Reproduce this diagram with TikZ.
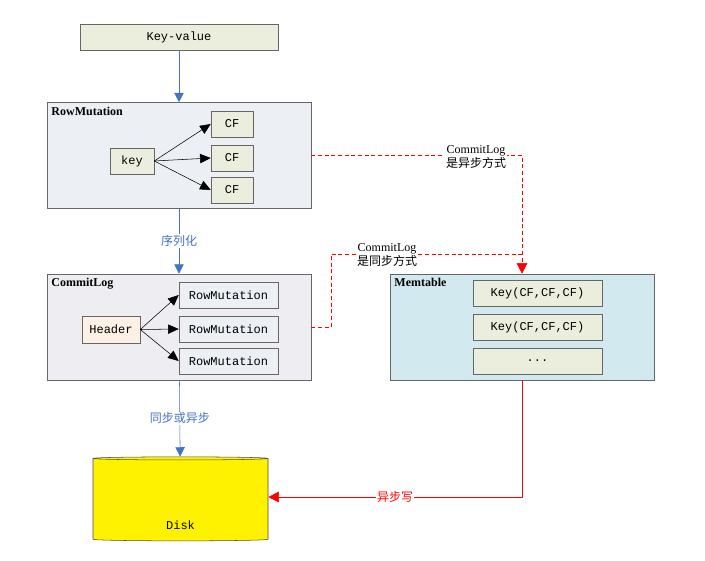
\documentclass[tikz,border=0pt]{standalone}
\usepackage{fontspec}
\setmainfont{Liberation Serif}
\setmonofont{Liberation Mono}
\newfontfamily\cjk{Noto Sans CJK SC}
\usetikzlibrary{shapes.geometric, arrows.meta, positioning}
\definecolor{cellgreen}{RGB}{235, 238, 220}
\definecolor{rowgray}{RGB}{236, 239, 244}
\definecolor{loggray}{RGB}{238, 237, 242}
\definecolor{headbeige}{RGB}{253, 240, 228}
\definecolor{memblue}{RGB}{210, 233, 239}
\definecolor{flowblue}{RGB}{68, 114, 196}
\begin{document}
\begin{tikzpicture}[
    x=0.75pt, y=-0.75pt,
    panel/.style={rectangle, draw=gray!80!black, minimum width=264*0.75pt, minimum height=106*0.75pt},
    cell/.style={rectangle, draw=gray!80!black, fill=cellgreen, font=\ttfamily\small, inner sep=0pt},
    title/.style={font=\bfseries\small, anchor=north west},
    note/.style={font=\cjk\small, align=center, fill=white, inner sep=1pt},
    flow/.style={-{Triangle[length=7pt,width=7pt]}, draw=flowblue!70, color=flowblue},
    fan/.style={-{Triangle[length=8pt,width=7pt]}, draw=gray!70!black, color=black},
    async/.style={densely dashed, draw=red!60, color=red},
    write/.style={draw=red!60, color=red}
]
    \useasboundingbox (0,0) rectangle (705,560);

    % input
    \node[cell, minimum width=198*0.75pt, minimum height=26*0.75pt] (kv) at (179,37) {Key-value};

    % row mutation
    \node[panel, fill=rowgray] (rowmut) at (179,155.5) {};
    \node[title] at (rowmut.north west) {RowMutation};
    \node[cell, minimum width=44*0.75pt, minimum height=26*0.75pt] (key) at (132,161) {key};
    \foreach \i/\y in {1/124, 2/158, 3/190}
        \node[cell, minimum width=42*0.75pt, minimum height=26*0.75pt] (cf\i) at (232,\y) {CF};
    \foreach \i in {1,2,3}
        \draw[fan] (key.east) -- (cf\i.west);

    % commit log
    \node[panel, fill=loggray] (commitlog) at (179,327) {};
    \node[title] at (commitlog.north west) {CommitLog};
    \node[cell, fill=headbeige, minimum width=58*0.75pt, minimum height=27*0.75pt] (header) at (111,329.5) {Header};
    \foreach \i/\y in {1/295, 2/329, 3/361}
        \node[cell, fill=rowgray, minimum width=99*0.75pt, minimum height=26*0.75pt] (rm\i) at (228.5,\y) {RowMutation};
    \foreach \i in {1,2,3}
        \draw[fan] (header.east) -- (rm\i.west);

    % memtable
    \node[panel, fill=memblue] (memtable) at (522,327) {};
    \node[title] at (memtable.north west) {Memtable};
    \foreach \i/\y/\t in {1/293/{Key(CF,CF,CF)}, 2/327/{Key(CF,CF,CF)}, 3/361/{...}}
        \node[cell, minimum width=129*0.75pt, minimum height=26*0.75pt] (kc\i) at (537.5,\y) {\t};

    % disk
    \node[cylinder, shape border rotate=90, aspect=0.35, draw=gray!60!black, fill=yellow,
          minimum width=175*0.75pt, minimum height=84*0.75pt, font=\ttfamily\small] (disk) at (180.5,500) {};
    \node[font=\ttfamily\small] at (180.5,525) {Disk};

    % flow
    \draw[flow] (kv) -- (rowmut);
    \draw[flow] (rowmut) -- node[note] {序列化} (commitlog);
    \draw[flow] (commitlog) -- node[note] {同步或异步} (disk);

    % commit log modes
    \coordinate (asynccorner) at (522,155);
    \coordinate (synccorner) at (331,327);
    \coordinate (synctop) at (331,254);
    \draw[async, -{Triangle[length=8pt,width=8pt]}] (rowmut.east |- asynccorner) -- (asynccorner) -- (memtable.north);
    \node[note] at (476,157) {\rmfamily CommitLog\\是异步方式};
    \draw[async] (commitlog.east |- synccorner) -- (synccorner) -- (synctop) -- (memtable.north |- synctop);
    \node[note] at (387,255) {\rmfamily CommitLog\\是同步方式};

    % memtable to disk
    \coordinate (writecorner) at (522,497);
    \draw[write, -{Triangle[length=8pt,width=8pt]}] (memtable.south) -- (writecorner) -- node[note] {异步写} (disk.east |- writecorner);
\end{tikzpicture}
\end{document}
